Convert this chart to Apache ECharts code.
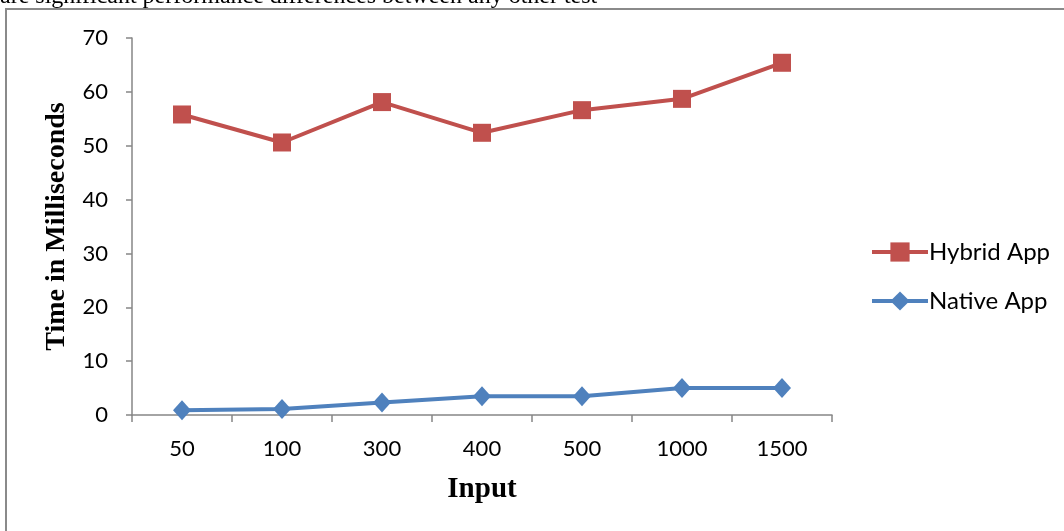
<!DOCTYPE html>
<html><head><meta charset="utf-8">
<script src="https://cdn.jsdelivr.net/npm/echarts@6/dist/echarts.min.js"></script>
<style>html,body{margin:0;padding:0;background:#fff}#c{width:1064px;height:531px}</style>
</head><body><div id="c"></div>
<script>
const categories = ['50','100','300','400','500','1000','1500'];
const hybridApp = [55.8, 50.6, 58.1, 52.4, 56.6, 58.7, 65.4];
const nativeApp = [0.9, 1.1, 2.3, 3.5, 3.5, 5.0, 5.0];
const yTicks = {min: 0, max: 70, interval: 10};

const chart = echarts.init(document.getElementById('c'));
const labelFont = 'Lato, "Open Sans", sans-serif';
chart.setOption({
  animation: false,
  graphic: [
    {type: 'rect', shape: {x: 6, y: 9, width: 1100, height: 600}, style: {fill: 'none', stroke: '#8a8a8a', lineWidth: 2}},
    {type: 'text', left: 0, top: -15, style: {text: 'are significant performance differences between any other test', font: '24px "Liberation Serif", serif', fill: '#000'}}
  ],
  grid: {left: 132, right: 232, top: 38, bottom: 116},
  legend: {
    orient: 'vertical', left: 865, top: 235, itemGap: 25, itemWidth: 56, itemHeight: 24,
    textStyle: {fontSize: 24, fontFamily: labelFont, color: '#000', padding: [0,0,0,-4]},
    lineStyle: {width: 4},
    data: ['Hybrid App', 'Native App']
  },
  xAxis: {
    type: 'category', data: categories, boundaryGap: true,
    name: 'Input', nameLocation: 'middle', nameGap: 60,
    nameTextStyle: {fontFamily: '"Liberation Serif", serif', fontWeight: 'bold', fontSize: 29, color: '#000'},
    axisLine: {lineStyle: {color: '#868686', width: 1.5}},
    axisTick: {show: true, length: 7, lineStyle: {color: '#868686', width: 1.5}},
    axisLabel: {fontSize: 22, fontFamily: labelFont, color: '#000', margin: 23}
  },
  yAxis: {
    type: 'value', min: yTicks.min, max: yTicks.max, interval: yTicks.interval,
    name: 'Time in Milliseconds', nameLocation: 'middle', nameGap: 61, nameRotate: 90,
    nameTextStyle: {fontFamily: '"Liberation Serif", serif', fontWeight: 'bold', fontSize: 28, color: '#000'},
    axisLine: {show: true, lineStyle: {color: '#868686', width: 1.5}},
    axisTick: {show: true, length: 6, lineStyle: {color: '#868686', width: 1.5}},
    axisLabel: {fontSize: 22, fontFamily: labelFont, color: '#000', margin: 24},
    splitLine: {show: false}
  },
  series: [
    {name: 'Hybrid App', type: 'line', data: hybridApp, symbol: 'rect', symbolSize: 18,
     lineStyle: {color: '#C0504D', width: 4}, itemStyle: {color: '#C0504D'}},
    {name: 'Native App', type: 'line', data: nativeApp, symbol: 'diamond', symbolSize: [18, 20],
     lineStyle: {color: '#4F81BD', width: 4}, itemStyle: {color: '#4F81BD'}}
  ]
});
</script></body></html>
